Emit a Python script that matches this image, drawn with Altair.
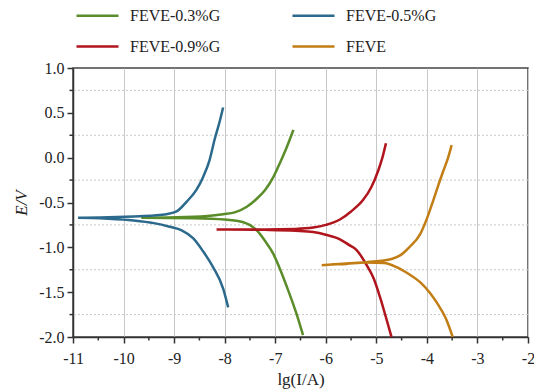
import altair as alt
import pandas as pd

# ---------------- data ----------------
series_names = ["FEVE-0.3%G", "FEVE-0.5%G", "FEVE-0.9%G", "FEVE"]
series_colors = ["#5b8c2a", "#2b6a8c", "#b0141c", "#c27d14"]

# FEVE-0.3%G (green): cathodic end -> corrosion point -> anodic end
g_x = [-6.45, -6.58, -6.77, -6.90, -7.04, -7.20, -7.35, -7.63, -8.00, -8.60, -9.65,
       -8.60, -8.03, -7.80, -7.57, -7.35, -7.20, -7.04, -6.90, -6.77, -6.64]
g_y = [-1.98, -1.74, -1.44, -1.25, -1.07, -0.93, -0.82, -0.72, -0.69, -0.675, -0.67,
       -0.66, -0.63, -0.61, -0.55, -0.45, -0.36, -0.22, -0.05, 0.12, 0.31]

# FEVE-0.5%G (blue)
b_x = [-7.93, -8.03, -8.23, -8.42, -8.62, -8.85, -9.09, -9.40, -9.80, -10.30, -10.90,
       -10.30, -9.80, -9.40, -9.15, -8.95, -8.75, -8.56, -8.43, -8.30, -8.20, -8.10, -8.03]
b_y = [-1.67, -1.46, -1.22, -1.05, -0.90, -0.81, -0.77, -0.73, -0.70, -0.68, -0.67,
       -0.665, -0.655, -0.645, -0.63, -0.60, -0.49, -0.36, -0.22, -0.03, 0.20, 0.40, 0.56]

# FEVE-0.9%G (red)
r_x = [-4.70, -4.82, -4.93, -5.05, -5.20, -5.39, -5.55, -5.72, -6.00, -6.25, -6.60, -7.20, -8.16,
       -7.20, -6.60, -6.25, -6.00, -5.72, -5.50, -5.26, -5.10, -4.96, -4.88, -4.81]
r_y = [-2.00, -1.76, -1.55, -1.35, -1.19, -1.03, -0.97, -0.91, -0.86, -0.83, -0.815, -0.805, -0.80,
       -0.80, -0.795, -0.78, -0.75, -0.69, -0.60, -0.47, -0.33, -0.14, 0.00, 0.16]

# FEVE (orange)
o_x = [-3.49, -3.62, -3.80, -3.95, -4.13, -4.35, -4.60, -4.85, -5.20, -5.60, -6.08,
       -5.60, -5.20, -4.90, -4.70, -4.53, -4.35, -4.13, -4.00, -3.87, -3.77, -3.67, -3.58, -3.51]
o_y = [-2.00, -1.80, -1.62, -1.50, -1.39, -1.30, -1.22, -1.175, -1.17, -1.185, -1.20,
       -1.18, -1.165, -1.15, -1.13, -1.09, -1.00, -0.85, -0.68, -0.47, -0.30, -0.14, 0.00, 0.14]

x_major = [-11, -10, -9, -8, -7, -6, -5, -4, -3, -2]
x_minor = [-10.5, -9.5, -8.5, -7.5, -6.5, -5.5, -4.5, -3.5, -2.5]
y_major = [1.0, 0.5, 0.0, -0.5, -1.0, -1.5, -2.0]
y_minor = [0.75, 0.25, -0.25, -0.75, -1.25, -1.75]

rows = []
for name, xs, ys in [("FEVE-0.3%G", g_x, g_y), ("FEVE-0.5%G", b_x, b_y),
                     ("FEVE-0.9%G", r_x, r_y), ("FEVE", o_x, o_y)]:
    for i, (xv, yv) in enumerate(zip(xs, ys)):
        rows.append({"series": name, "lgI": xv, "E": yv, "idx": i})
df = pd.DataFrame(rows)

W, H = 455, 269
FONT = "Liberation Serif"

xscale = alt.Scale(domain=[-11, -2], nice=False, zero=False)
yscale = alt.Scale(domain=[-2, 1], nice=False, zero=False)

x_label_expr = "(datum.value < 0 ? '-' : '') + format(abs(datum.value), 'd')"
y_label_expr = "(datum.value < 0 ? '-' : '') + format(abs(datum.value), '.1f')"

lines = alt.Chart(df).mark_line(strokeWidth=2.5, interpolate="monotone").encode(
    x=alt.X("lgI:Q", scale=xscale,
            axis=alt.Axis(values=x_major, labelExpr=x_label_expr, title="lg(I/A)", grid=True,
                          gridColor="#c8c8c8", gridWidth=1, tickSize=6, tickWidth=1.5,
                          tickColor="#333", domainColor="#333", domainWidth=1.5,
                          labelFontSize=16, labelColor="#222", labelPadding=7,
                          titleFontSize=17, titleFontWeight="normal",
                          titleColor="#222", titlePadding=5, labelFlush=False)),
    y=alt.Y("E:Q", scale=yscale,
            axis=alt.Axis(values=y_major, labelExpr=y_label_expr, title="E/V", grid=False,
                          tickSize=6, tickWidth=1.5, tickColor="#333", domainColor="#333",
                          domainWidth=1.5, labelFontSize=16, labelColor="#222",
                          labelPadding=3, titleFontSize=17,
                          titleFontStyle="italic", titleFontWeight="normal", titleColor="#222",
                          titlePadding=8, labelFlush=False)),
    color=alt.Color("series:N",
                    scale=alt.Scale(domain=series_names, range=series_colors),
                    legend=alt.Legend(orient="none", legendX=2, legendY=-75, columns=2,
                                      direction="horizontal",
                                      title=None, symbolType="stroke", symbolSize=1764,
                                      symbolStrokeWidth=2.5, labelFontSize=16,
                                      labelColor="#222", labelOffset=10, columnPadding=66,
                                      rowPadding=0)),
    order=alt.Order("idx:Q"),
    detail="series:N",
)

hgrid = alt.Chart(pd.DataFrame({"E": y_minor})).mark_rule(
    color="#c8c8c8", strokeDash=[2, 2], strokeWidth=1
).encode(y=alt.Y("E:Q", scale=yscale))

xminor = alt.Chart(pd.DataFrame({"lgI": x_minor})).mark_rule(
    color="#333", strokeWidth=1.5
).encode(x=alt.X("lgI:Q", scale=xscale), y=alt.value(H), y2=alt.value(H + 3.5))

yminor = alt.Chart(pd.DataFrame({"E": y_minor})).mark_rule(
    color="#333", strokeWidth=1.5
).encode(y=alt.Y("E:Q", scale=yscale), x=alt.value(0), x2=alt.value(-3.5))

chart = alt.layer(hgrid, lines, xminor, yminor).properties(
    width=W, height=H,
    autosize=alt.AutoSizeParams(type="none"),
    padding={"left": 73, "top": 68, "right": 6, "bottom": 54},
    background="white",
).configure(font=FONT).configure_axis(
    labelFont=FONT, titleFont=FONT
).configure_legend(labelFont=FONT).configure_view(stroke="#444", strokeWidth=1.5)

chart.save("out.html", embed_options={"renderer": "svg", "actions": False})
